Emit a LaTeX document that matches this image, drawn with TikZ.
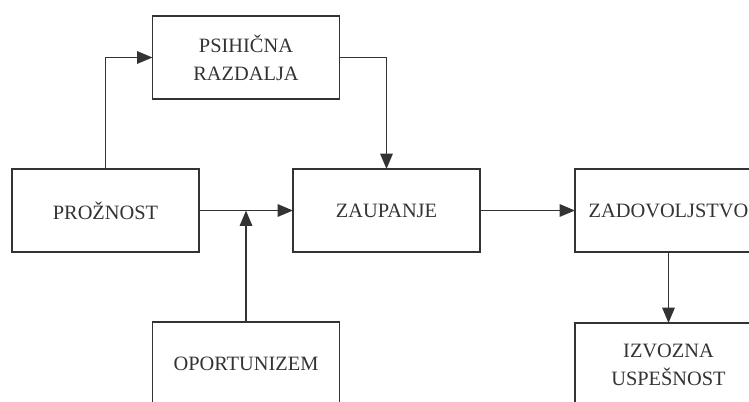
\documentclass[tikz,border=0pt]{standalone}
\usepackage{fontspec}
\setmainfont{Liberation Serif}
\usetikzlibrary{calc}
\usetikzlibrary{positioning}
\usetikzlibrary{arrows.meta}
\def\thickness{ultra thick}
\definecolor{ink}{HTML}{333333}
\tikzset{
block/.style={draw=ink, \thickness, minimum width=5.61cm, minimum height=2.49cm,
	outer sep=0pt, align=center, text=ink, font=\fontsize{17.4}{23.9}\selectfont},
flow/.style={draw=ink, \thickness, -{Triangle[length=0.46cm,width=0.37cm]}},
}
\begin{document}
\begin{tikzpicture}
%Fix the frame
\useasboundingbox (0,0) rectangle (22.47,-12.03);
\clip (0,0) rectangle (22.47,-12.03);

%Place the nodes
\node[block] (prozno) at (3.165,-6.315) {PROŽNOST};
\node[block, right=2.82cm of prozno] (zaup) {ZAUPANJE};
\node[block, right=2.85cm of zaup] (zadov) {ZADOVOLJSTVO};
\node[block, below=2.13cm of zadov] (izvoz) {IZVOZNA\\USPEŠNOST};

\coordinate (junc) at ($(prozno.east)!0.5!(zaup.west)$);
\coordinate (topmid) at ($(prozno.north east)!0.5!(zaup.north west)$);
\coordinate (botmid) at ($(prozno.south east)!0.5!(zaup.south west)$);
\node[block, above=2.1cm of topmid] (psih) {PSIHIČNA\\RAZDALJA};
\node[block, below=2.1cm of botmid] (oport) {OPORTUNIZEM};

%Connect them
\draw[flow] (prozno.north) |- (psih.west);
\draw[flow] (psih.east) -| (zaup.north);
\draw[flow] (prozno.east) -- (zaup.west);
\draw[flow] (oport.north) -- (junc);
\draw[flow] (zaup.east) -- (zadov.west);
\draw[flow] (zadov.south) -- (izvoz.north);

\end{tikzpicture}
\end{document}
